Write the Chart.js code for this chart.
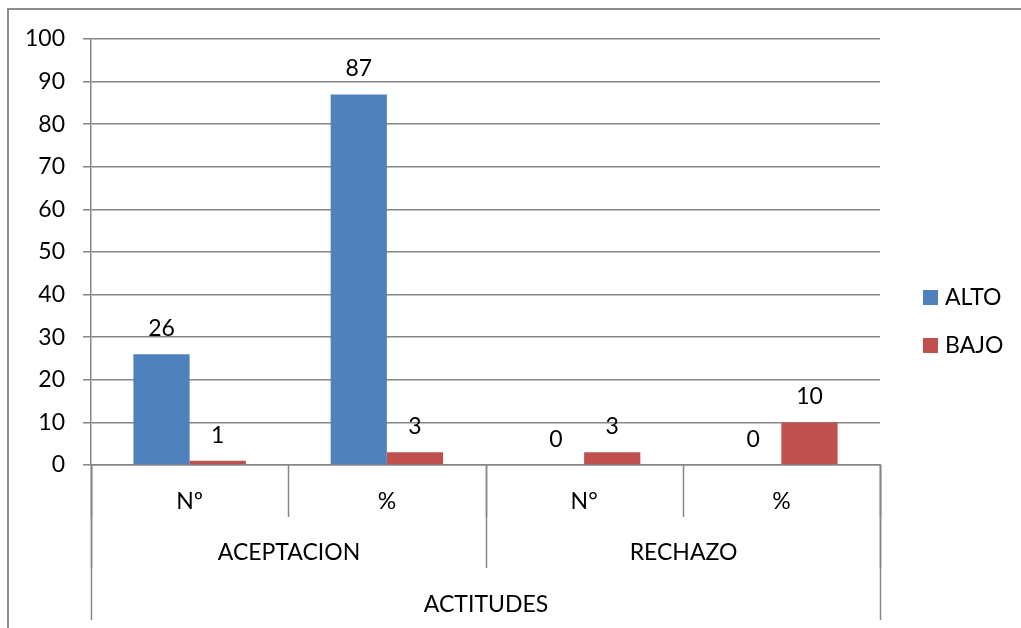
<!DOCTYPE html>
<html>
<head>
<meta charset="utf-8">
<script src="https://cdn.jsdelivr.net/npm/chart.js@4/dist/chart.umd.min.js"></script>
<style>
  html, body { margin: 0; padding: 0; background: #fff; }
  canvas { display: block; }
</style>
</head>
<body>
<canvas id="chart" width="1021" height="628"></canvas>
<script>
// Category levels of the horizontal axis
const subCategories = ['Nº', '%', 'N°', '%'];
const groups = ['ACEPTACION', 'RECHAZO'];
const groupSpans = [2, 2];
const topLabel = 'ACTITUDES';

// Series
const seriesNames = ['ALTO', 'BAJO'];
const altoValues = [26, 87, 0, 0];
const bajoValues = [1, 3, 3, 10];
const seriesColors = ['#4F81BD', '#C0504D'];

// Value axis
const yMin = 0, yMax = 100, yStep = 10;

const FONT = 'Lato, "Open Sans", "Liberation Sans", sans-serif';
const FSIZE = 23;
const GRID = '#868686';

Chart.defaults.font.family = FONT;
Chart.defaults.font.size = FSIZE;
Chart.defaults.color = '#000';

// Frame, value labels, multi-level category axis and legend
const extras = {
  id: 'extras',
  beforeDraw(chart) {
    const ctx = chart.ctx;
    ctx.save();
    ctx.strokeStyle = '#8c8c8c';
    ctx.lineWidth = 2;
    ctx.beginPath();
    ctx.moveTo(8, chart.height);
    ctx.lineTo(8, 9);
    ctx.lineTo(chart.width, 9);
    ctx.stroke();
    ctx.restore();
  },
  afterDatasetsDraw(chart) {
    const ctx = chart.ctx;
    ctx.save();
    ctx.font = FSIZE + 'px ' + FONT;
    ctx.fillStyle = '#000';
    ctx.textAlign = 'center';
    ctx.textBaseline = 'alphabetic';
    chart.data.datasets.forEach((ds, di) => {
      chart.getDatasetMeta(di).data.forEach((bar, i) => {
        ctx.fillText(String(ds.data[i]), bar.x, bar.y - 18);
      });
    });
    ctx.restore();
  },
  afterDraw(chart) {
    const ctx = chart.ctx;
    const x = chart.scales.x;
    const area = chart.chartArea;
    const b = area.bottom;
    const half = (x.getPixelForValue(1) - x.getPixelForValue(0)) / 2;
    const edge = i => Math.round(x.getPixelForValue(i) - half) + 0.5;
    const n = subCategories.length;

    ctx.save();
    ctx.strokeStyle = GRID;
    ctx.lineWidth = 1.5;
    // level 1 separators
    for (let i = 0; i <= n; i++) {
      ctx.beginPath();
      ctx.moveTo(edge(i), b);
      ctx.lineTo(edge(i), b + 52);
      ctx.stroke();
    }
    // level 2 separators
    let pos = 0;
    const groupEdges = [0];
    groupSpans.forEach(s => { pos += s; groupEdges.push(pos); });
    groupEdges.forEach(g => {
      ctx.beginPath();
      ctx.moveTo(edge(g), b);
      ctx.lineTo(edge(g), b + 103);
      ctx.stroke();
    });
    // outer separators
    [0, n].forEach(g => {
      ctx.beginPath();
      ctx.moveTo(edge(g), b);
      ctx.lineTo(edge(g), b + 155);
      ctx.stroke();
    });

    ctx.font = FSIZE + 'px ' + FONT;
    ctx.fillStyle = '#000';
    ctx.textAlign = 'center';
    ctx.textBaseline = 'alphabetic';
    subCategories.forEach((lab, i) => {
      ctx.fillText(lab, x.getPixelForValue(i), b + 44);
    });
    groups.forEach((g, gi) => {
      const cx = (edge(groupEdges[gi]) + edge(groupEdges[gi + 1])) / 2;
      ctx.fillText(g, cx, b + 95);
    });
    ctx.fillText(topLabel, (edge(0) + edge(n)) / 2, b + 147);

    // legend
    ctx.textAlign = 'left';
    chart.data.datasets.forEach((ds, di) => {
      const by = 290 + di * 48;
      ctx.fillStyle = ds.backgroundColor;
      ctx.fillRect(area.right + 43, by, 15, 15);
      ctx.fillStyle = '#000';
      ctx.fillText(ds.label, area.right + 65, by + 15);
    });
    ctx.restore();
  }
};

new Chart(document.getElementById('chart'), {
  type: 'bar',
  data: {
    labels: subCategories,
    datasets: [
      { label: seriesNames[0], data: altoValues, backgroundColor: seriesColors[0] },
      { label: seriesNames[1], data: bajoValues, backgroundColor: seriesColors[1] }
    ]
  },
  options: {
    responsive: false,
    animation: false,
    devicePixelRatio: 1,
    layout: { padding: { top: 39, right: 141, left: 0, bottom: 0 } },
    datasets: { bar: { categoryPercentage: 0.57, barPercentage: 1.0 } },
    plugins: { legend: { display: false }, tooltip: { enabled: false } },
    scales: {
      x: {
        ticks: { display: false },
        grid: { display: false },
        border: { display: true, color: GRID, width: 1.5 },
        afterFit(scale) { scale.height = 163; }
      },
      y: {
        min: yMin,
        max: yMax,
        ticks: { stepSize: yStep, padding: 18, color: '#000', font: { size: FSIZE } },
        grid: { color: GRID, lineWidth: 1.5, tickLength: 8 },
        border: { display: true, color: GRID, width: 1.5 },
        afterFit(scale) { scale.width = 91; }
      }
    }
  },
  plugins: [extras]
});
</script>
</body>
</html>
